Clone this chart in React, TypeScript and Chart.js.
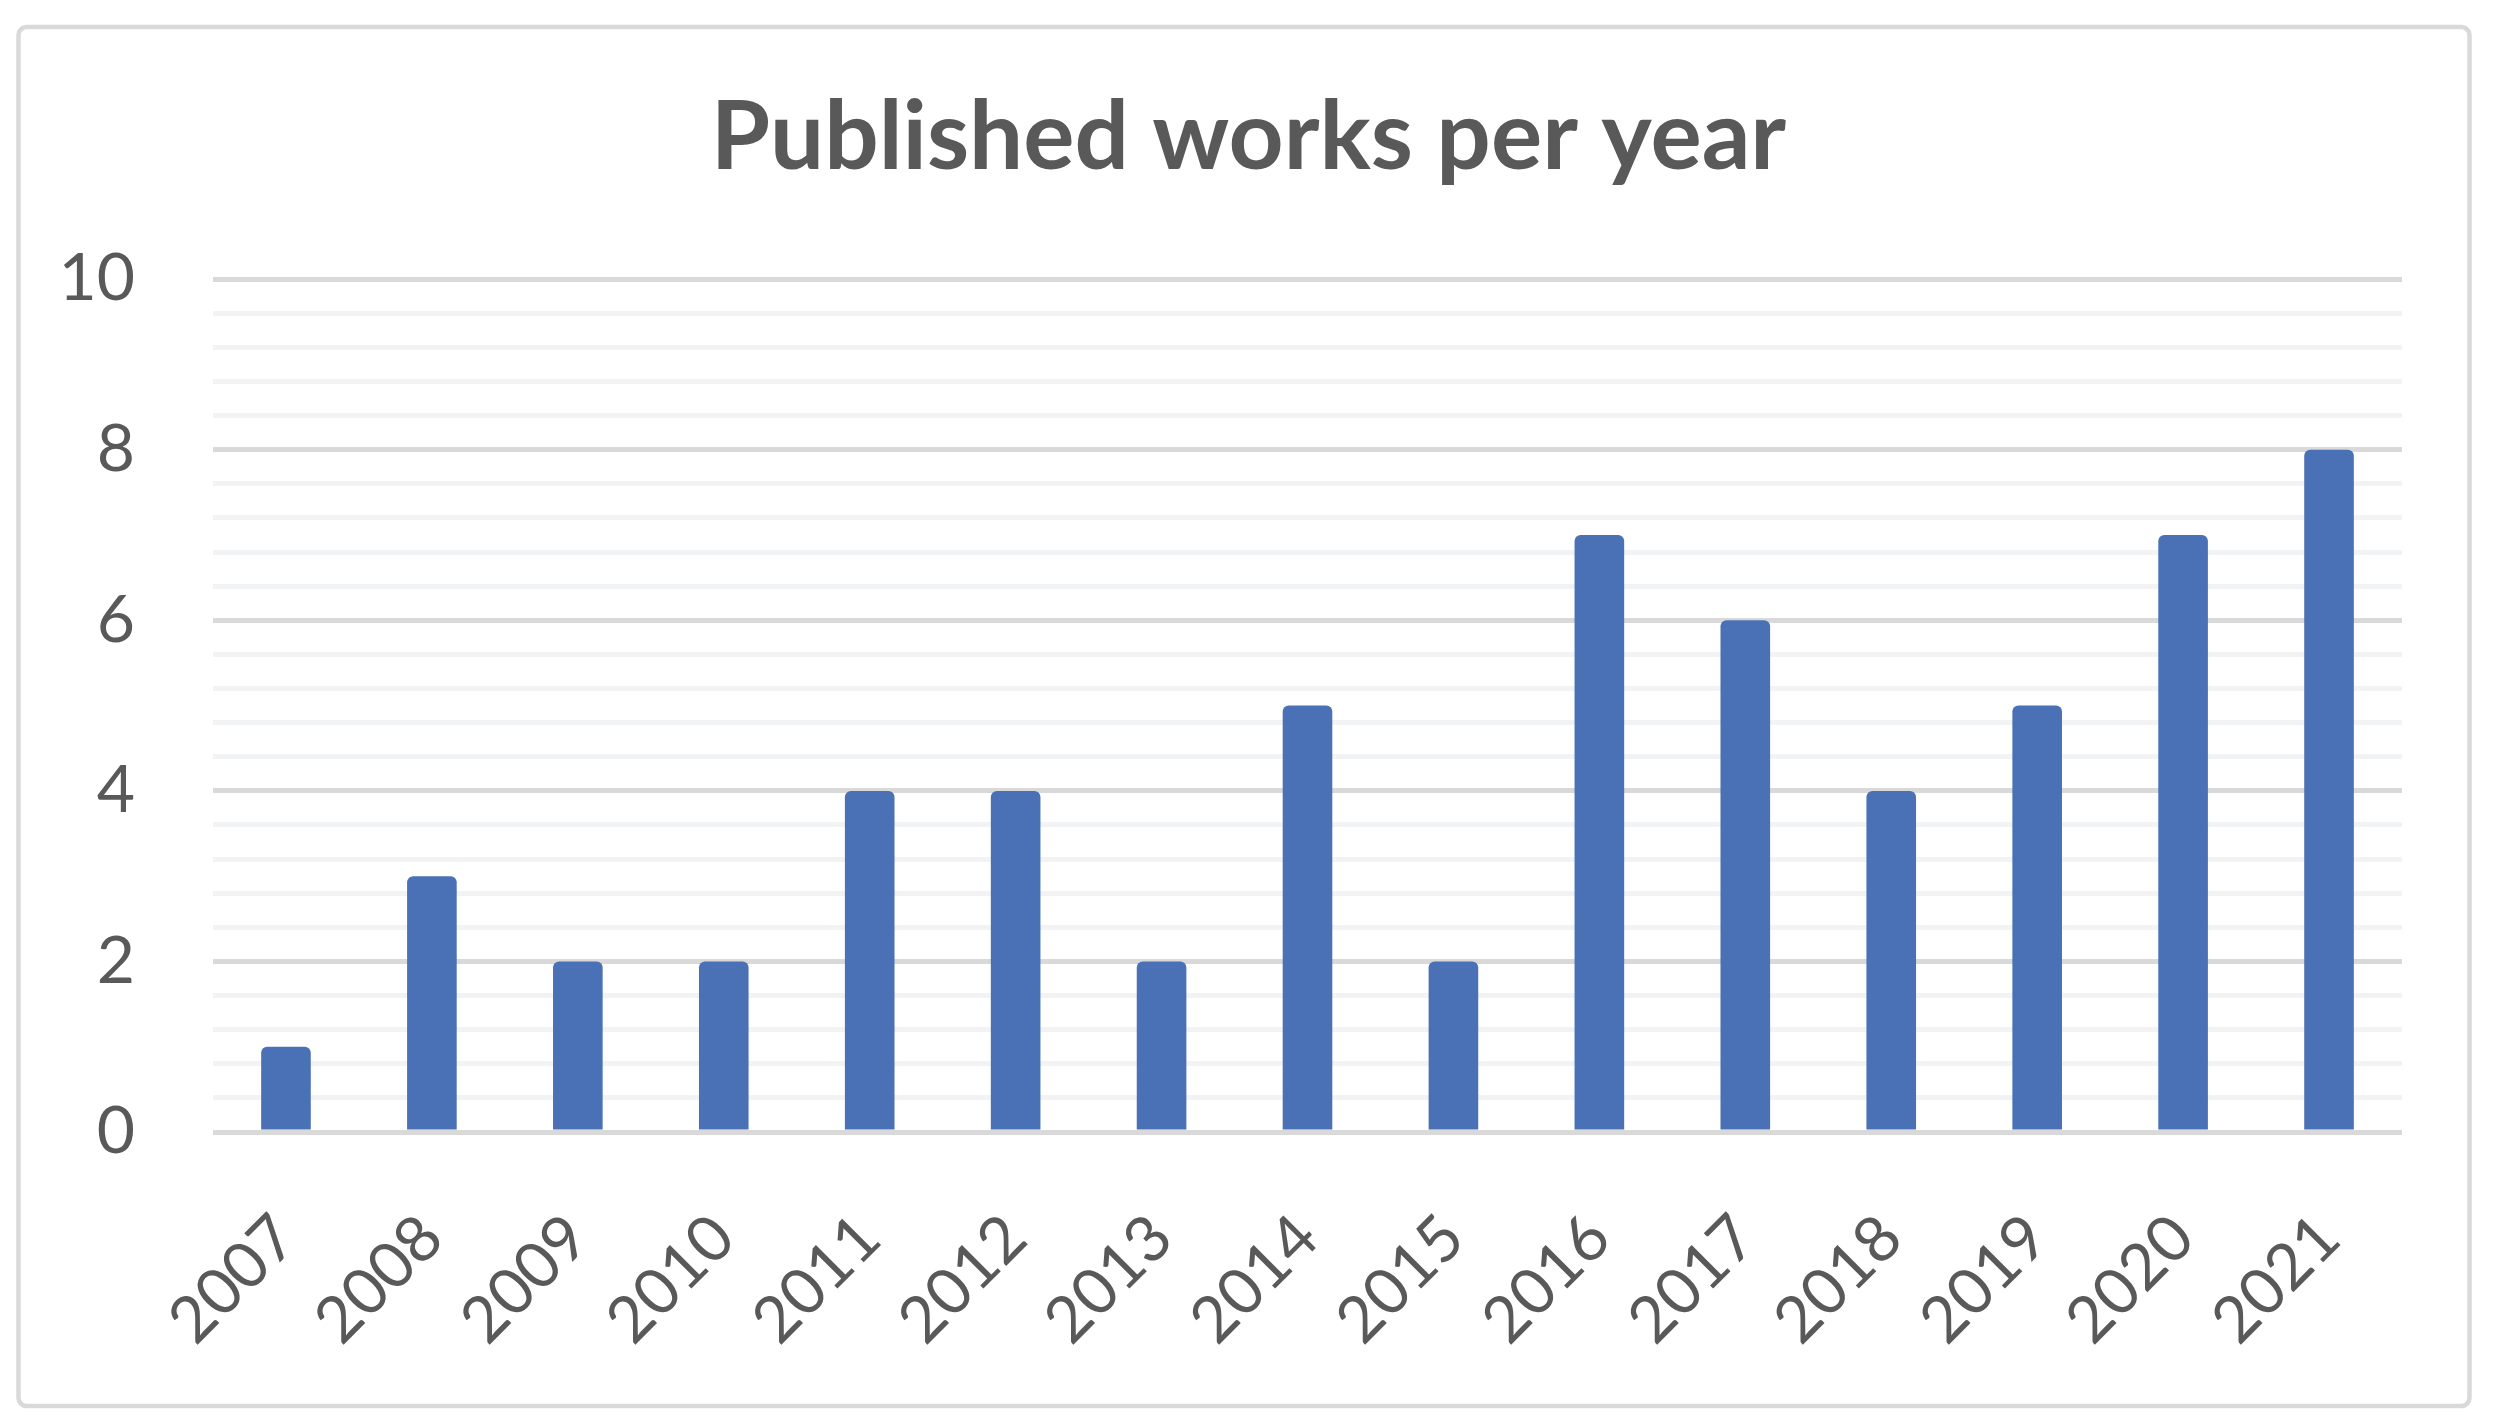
import React, { useEffect, useRef } from 'react';
import { Chart, registerables } from 'chart.js';

Chart.register(...registerables);

// ---- data ----
const years = ['2007', '2008', '2009', '2010', '2011', '2012', '2013', '2014', '2015', '2016', '2017', '2018', '2019', '2020', '2021'];
const works = [1, 3, 2, 2, 4, 4, 2, 5, 2, 7, 6, 4, 5, 7, 8];
const yMin = 0;
const yMax = 10;
const yMajorStep = 2;
const yMinorStep = 0.4;
const titleText = 'Published works per year';

const W = 2497;
const H = 1419;

const isMajor = (v: number) => Math.abs(v / yMajorStep - Math.round(v / yMajorStep)) < 1e-6;

const outerBorder = {
  id: 'outerBorder',
  beforeDraw(chart: any) {
    const ctx = chart.ctx as CanvasRenderingContext2D;
    ctx.save();
    ctx.fillStyle = '#ffffff';
    ctx.fillRect(0, 0, chart.width, chart.height);
    ctx.strokeStyle = '#d9d9d9';
    ctx.lineWidth = 4.5;
    ctx.beginPath();
    (ctx as any).roundRect(18.5, 27, 2451, 1379, 8);
    ctx.stroke();
    ctx.restore();
  },
};

export default function App() {
  const ref = useRef<HTMLCanvasElement | null>(null);

  useEffect(() => {
    if (!ref.current) return;
    const chart = new Chart(ref.current, {
      type: 'bar',
      data: {
        labels: years,
        datasets: [
          {
            label: 'Published works',
            data: works,
            backgroundColor: '#4a71b6',
            borderWidth: 0,
            borderRadius: 6,
            categoryPercentage: 1,
            barPercentage: 0.34,
            yAxisID: 'y',
          },
        ],
      },
      options: {
        animation: false,
        responsive: true,
        maintainAspectRatio: false,
        devicePixelRatio: 1,
        layout: { padding: { left: 0, right: 0, top: 0, bottom: 0 } },
        plugins: {
          legend: { display: false },
          tooltip: { enabled: false },
          title: {
            display: true,
            text: titleText,
            color: '#595959',
            font: { family: 'Lato', size: 96, weight: 'bold' },
            padding: { top: 80, bottom: 84 },
          },
        },
        scales: {
          x: {
            afterFit: (s: any) => {
              s.height = 287;
            },
            ticks: {
              minRotation: 45,
              maxRotation: 45,
              autoSkip: false,
              padding: 68,
              color: '#595959',
              font: { family: 'Lato', size: 64 },
            },
            grid: { display: false, drawTicks: false },
            border: { display: false },
          },
          y: {
            position: 'left',
            min: yMin,
            max: yMax,
            afterBuildTicks: (scale: any) => {
              const n = Math.round((yMax - yMin) / yMinorStep);
              const t: { value: number }[] = [];
              for (let i = 0; i <= n; i++) t.push({ value: +(yMin + i * yMinorStep).toFixed(6) });
              scale.ticks = t;
            },
            afterFit: (s: any) => {
              s.width = 213;
            },
            ticks: {
              autoSkip: false,
              padding: 78,
              color: '#595959',
              font: { family: 'Lato', size: 66 },
              callback: (v: any) => (isMajor(Number(v)) ? String(Math.round(Number(v))) : ''),
            },
            grid: {
              drawTicks: false,
              color: (c: any) => (c.tick && isMajor(c.tick.value) ? '#d9d9d9' : '#f2f3f5'),
              lineWidth: 5,
            },
            border: { display: false },
          },
          yRightSpace: {
            position: 'right',
            display: true,
            afterFit: (s: any) => {
              s.width = 95;
            },
            ticks: { display: false },
            grid: { display: false, drawOnChartArea: false, drawTicks: false },
            border: { display: false },
          },
        },
      },
      plugins: [outerBorder],
    });
    return () => chart.destroy();
  }, []);

  return (
    <div style={{ position: 'fixed', left: 0, top: 0, width: W, height: H, background: '#fff' }}>
      <canvas ref={ref} />
    </div>
  );
}
